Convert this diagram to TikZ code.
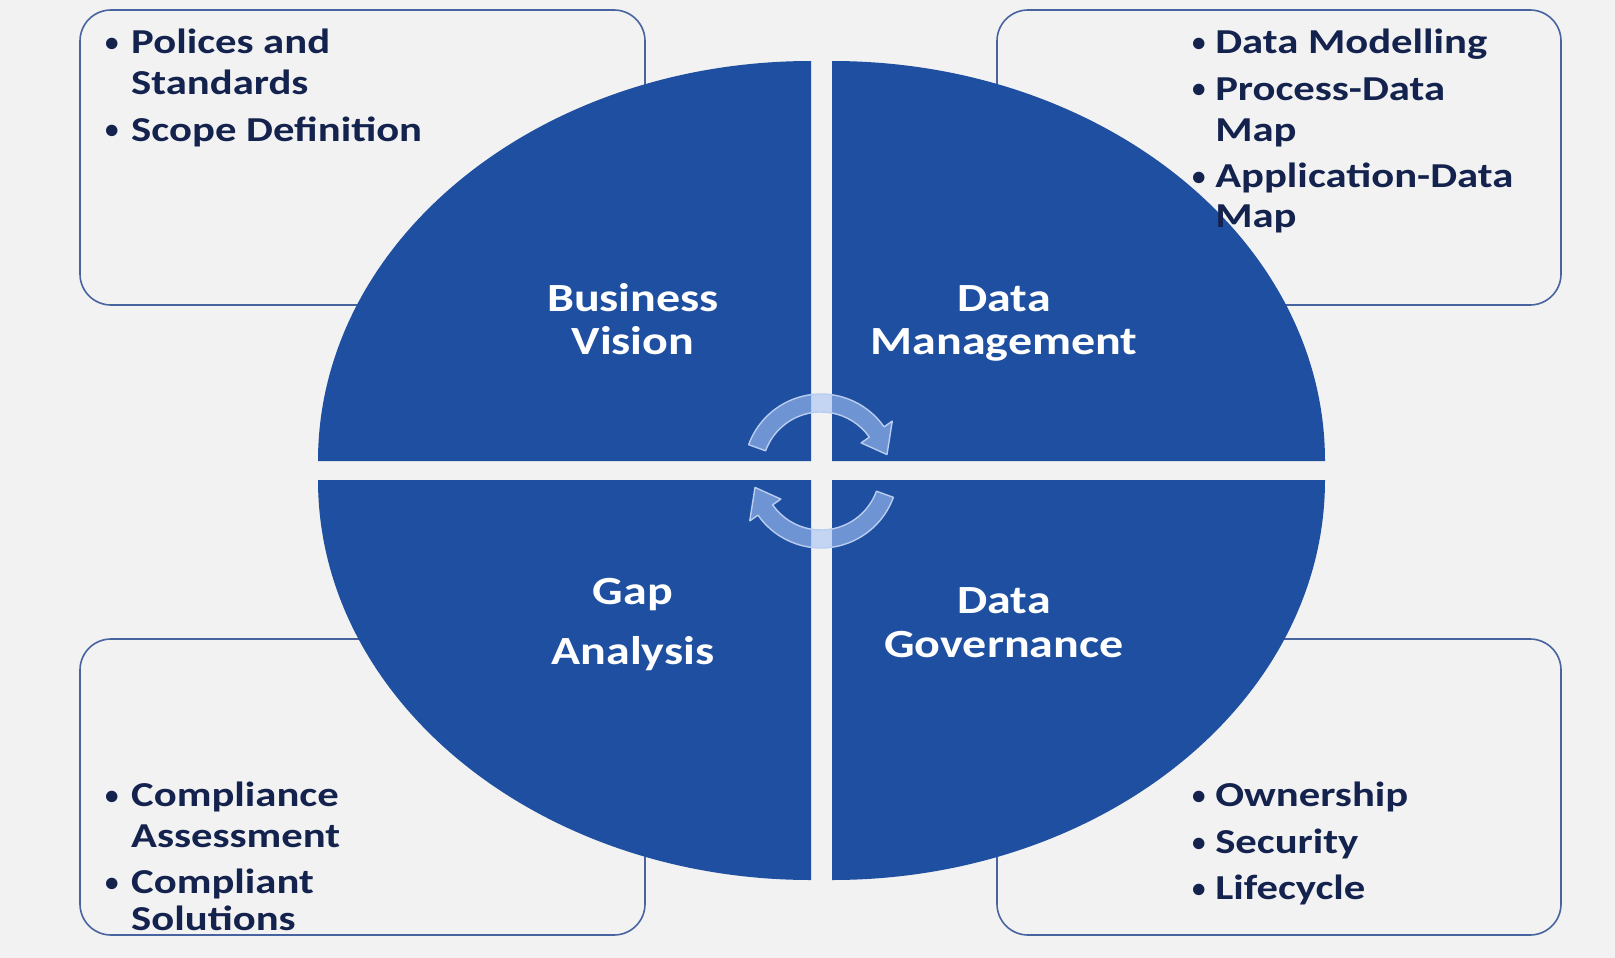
\documentclass[tikz,border=0pt]{standalone}
\usepackage{fontspec}
\setmainfont{Carlito}
\definecolor{bg}{RGB}{242,242,242}
\definecolor{qblue}{RGB}{31,79,160}
\definecolor{boxc}{RGB}{72,100,160}
\definecolor{navy}{RGB}{20,34,78}
\definecolor{arrf}{RGB}{165,195,245}
\definecolor{arrd}{RGB}{185,205,240}
\tikzset{
  quad/.style={fill=qblue, draw=none},
  box/.style={draw=boxc, line width=1.6pt, rounded corners=31pt, fill=bg},
  lbl/.style={text=white, font=\bfseries\fontsize{40}{44}\selectfont, xscale=1.2, inner sep=0pt, anchor=base},
  itm/.style={text=navy, font=\bfseries\fontsize{35}{41}\selectfont, xscale=1.22, inner sep=0pt, anchor=base west},
  bul/.style={text=navy, font=\bfseries\fontsize{27}{30}\selectfont, inner sep=0pt, anchor=base west},
  cyc/.style={fill=arrf, fill opacity=0.6, draw=arrd, line width=1.4pt, line join=round}
}
\begin{document}
\begin{tikzpicture}[x=1pt, y=-1pt]
\useasboundingbox (0,0) rectangle (1615,958);
\fill[bg] (0,0) rectangle (1615,958);
% boxes
\draw[box] (80,10) rectangle (645,305);
\draw[box] (997,10) rectangle (1561,305);
\draw[box] (80,639) rectangle (645,935);
\draw[box] (997,639) rectangle (1561,935);
% quadrants
\fill[quad] (811,461) -- (318,461) arc[start angle=180, end angle=270, x radius=493, y radius=400] -- cycle;
\fill[quad] (832,461) -- (832,61) arc[start angle=270, end angle=360, x radius=493, y radius=400] -- cycle;
\fill[quad] (811,480) -- (318,480) arc[start angle=180, end angle=90, x radius=493, y radius=400] -- cycle;
\fill[quad] (832,480) -- (1325,480) arc[start angle=0, end angle=90, x radius=493, y radius=400] -- cycle;
% cycle arrows
\begin{scope}[shift={(821,471)}, yscale=-1]
\draw[cyc] (160:77) arc[start angle=160, end angle=35, radius=77] -- (35:87) -- (14:68) -- (35:49) -- (35:59) arc[start angle=35, end angle=160, radius=59] -- cycle;
\draw[cyc] (-20:77) arc[start angle=-20, end angle=-145, radius=77] -- (-145:87) -- (-166:68) -- (-145:49) -- (-145:59) arc[start angle=-145, end angle=-20, radius=59] -- cycle;
\end{scope}
% quadrant labels
\node[lbl] (bv1) at (633,311) {Business};
\node[lbl] (bv2) at (633,354) {Vision};
\node[lbl] (dm1) at (1004,311) {Data};
\node[lbl] (dm2) at (1004,354) {Management};
\node[lbl] (ga1) at (633,604) {Gap};
\node[lbl] (ga2) at (633,664) {Analysis};
\node[lbl] (dg1) at (1004,613) {Data};
\node[lbl] (dg2) at (1004,657) {Governance};
% top-left list
\node[bul] (tlb1) at (105,52) {•};
\node[itm] (tl1) at (131,54) {Polices and};
\node[itm] (tl2) at (131,95) {Standards};
\node[bul] (tlb2) at (105,139) {•};
\node[itm] (tl3) at (131,141) {Scope Definition};
% top-right list
\node[bul] (trb1) at (1192,52) {•};
\node[itm] (tr1) at (1215,54) {Data Modelling};
\node[bul] (trb2) at (1192,98) {•};
\node[itm] (tr2) at (1215,100) {Process-Data};
\node[itm] (tr3) at (1215,141) {Map};
\node[bul] (trb3) at (1192,185) {•};
\node[itm] (tr4) at (1215,187) {Application-Data};
\node[itm] (tr5) at (1215,227) {Map};
% bottom-left list
\node[bul] (blb1) at (105,804) {•};
\node[itm] (bl1) at (131,806) {Compliance};
\node[itm] (bl2) at (131,847) {Assessment};
\node[bul] (blb2) at (105,891) {•};
\node[itm] (bl3) at (131,893) {Compliant};
\node[itm] (bl4) at (131,930) {Solutions};
% bottom-right list
\node[bul] (brb1) at (1192,804) {•};
\node[itm] (br1) at (1215,806) {Ownership};
\node[bul] (brb2) at (1192,851) {•};
\node[itm] (br2) at (1215,853) {Security};
\node[bul] (brb3) at (1192,897) {•};
\node[itm] (br3) at (1215,899) {Lifecycle};
\end{tikzpicture}
\end{document}
